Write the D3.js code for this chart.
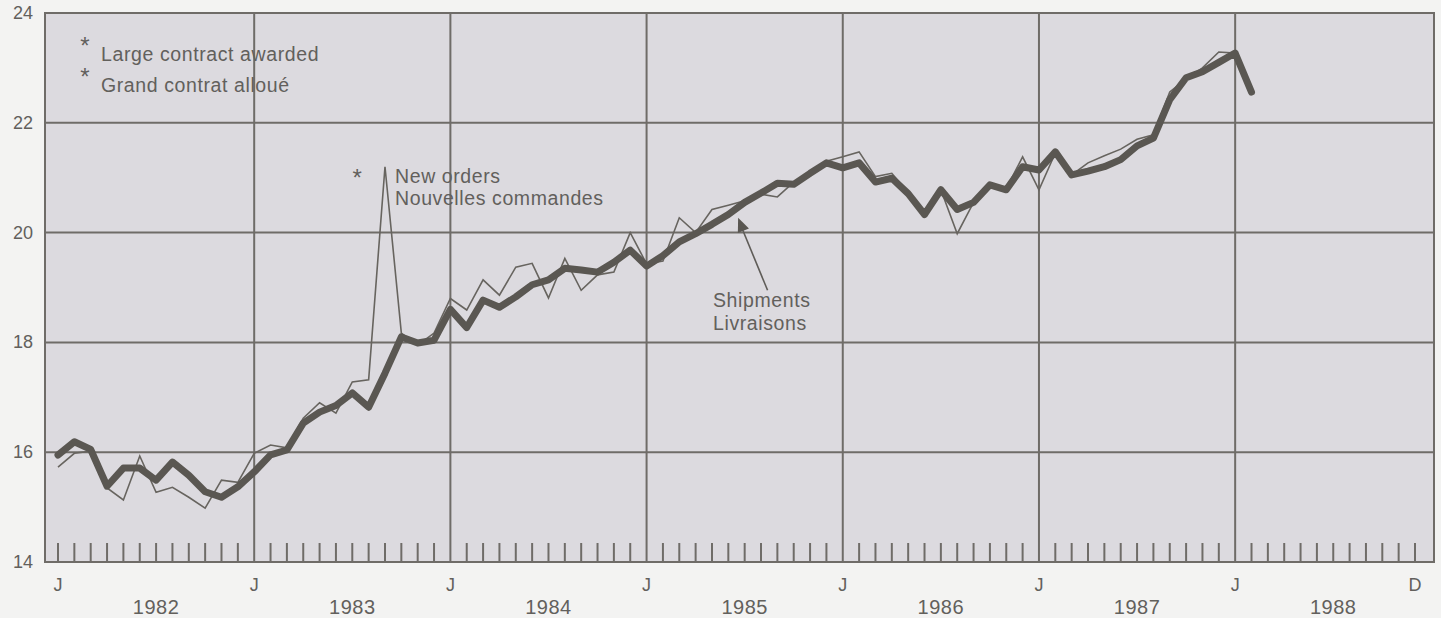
<!DOCTYPE html>
<html>
<head>
<meta charset="utf-8">
<script src="https://cdn.jsdelivr.net/npm/d3@7"></script>
<style>
  html, body { margin: 0; padding: 0; background: #f3f3f2; }
  svg { display: block; }
  text { font-family: "Liberation Sans", Arial, Helvetica, sans-serif; fill: #62605c; }
</style>
</head>
<body>
<svg id="chart" width="1441" height="618"></svg>
<script>
// Monthly series, starting January 1982 (billions of dollars)
const shipments = [
  15.95, 16.19, 16.05, 15.38, 15.71, 15.71, 15.49, 15.82, 15.58, 15.28, 15.18, 15.37, // 1982
  15.64, 15.95, 16.04, 16.53, 16.73, 16.85, 17.08, 16.82, 17.44, 18.10, 17.99, 18.04, // 1983
  18.60, 18.27, 18.77, 18.64, 18.83, 19.05, 19.14, 19.35, 19.32, 19.28, 19.46, 19.68, // 1984
  19.39, 19.58, 19.83, 19.98, 20.15, 20.33, 20.55, 20.72, 20.90, 20.88, 21.08, 21.27, // 1985
  21.18, 21.27, 20.92, 20.99, 20.71, 20.33, 20.78, 20.42, 20.55, 20.87, 20.78, 21.20, // 1986
  21.14, 21.47, 21.05, 21.12, 21.20, 21.33, 21.58, 21.72, 22.42, 22.82, 22.93, 23.10, // 1987
  23.27, 22.56                                                                         // 1988
];
const newOrders = [
  15.73, 15.98, 16.02, 15.35, 15.13, 15.93, 15.27, 15.36, 15.18, 14.98, 15.49, 15.45, // 1982
  15.98, 16.13, 16.08, 16.62, 16.90, 16.71, 17.28, 17.32, 21.20, 18.17, 17.95, 18.17, // 1983
  18.80, 18.59, 19.14, 18.86, 19.37, 19.44, 18.81, 19.53, 18.95, 19.23, 19.28, 20.00, // 1984
  19.43, 19.48, 20.27, 20.00, 20.42, 20.50, 20.58, 20.70, 20.65, 20.92, 21.05, 21.30, // 1985
  21.38, 21.47, 21.02, 21.08, 20.73, 20.35, 20.78, 19.98, 20.55, 20.87, 20.80, 21.38, // 1986
  20.78, 21.45, 21.05, 21.27, 21.40, 21.52, 21.70, 21.78, 22.56, 22.80, 23.00, 23.29, // 1987
  23.27                                                                                // 1988
];
const years = ["1982", "1983", "1984", "1985", "1986", "1987", "1988"];
const yTicks = [14, 16, 18, 20, 22, 24];
const monthCount = 84;          // Jan 1982 .. Dec 1988
const monthLabels = ["J", "D"]; // January / December markers
const legendLines = ["Large contract awarded", "Grand contrat alloué"];
const ordersLabel = ["New orders", "Nouvelles commandes"];
const shipLabel = ["Shipments", "Livraisons"];

const svg = d3.select("#chart");
const frame = { left: 45, right: 1434, top: 13, bottom: 562 };

const x = d3.scaleLinear().domain([0, monthCount - 1]).range([58, 1415]);
const y = d3.scaleLinear().domain([14, 24]).range([frame.bottom, frame.top]);

const gridColor = "#6f6c68";
const labelSize = 19.5, labelSpacing = 0.6;

// plot background
svg.append("rect")
  .attr("x", frame.left).attr("y", frame.top)
  .attr("width", frame.right - frame.left).attr("height", frame.bottom - frame.top)
  .attr("fill", "#dcdadf");

// horizontal grid lines
svg.append("g").selectAll("line").data(yTicks).join("line")
  .attr("x1", frame.left).attr("x2", frame.right)
  .attr("y1", d => y(d)).attr("y2", d => y(d))
  .attr("stroke", gridColor).attr("stroke-width", 2);

// vertical lines at each January after the first
const januaries = d3.range(12, monthCount, 12);
svg.append("g").selectAll("line").data(januaries).join("line")
  .attr("x1", d => x(d)).attr("x2", d => x(d))
  .attr("y1", frame.top).attr("y2", frame.bottom)
  .attr("stroke", gridColor).attr("stroke-width", 2);

// frame sides
svg.append("rect")
  .attr("x", frame.left).attr("y", frame.top)
  .attr("width", frame.right - frame.left).attr("height", frame.bottom - frame.top)
  .attr("fill", "none").attr("stroke", gridColor).attr("stroke-width", 2);

// monthly tick marks along the bottom
const months = d3.range(0, monthCount).filter(m => m === 0 || m % 12 !== 0);
svg.append("g").selectAll("line").data(months).join("line")
  .attr("x1", d => x(d)).attr("x2", d => x(d))
  .attr("y1", frame.bottom).attr("y2", frame.bottom - 19)
  .attr("stroke", gridColor).attr("stroke-width", 2);

// y-axis labels
svg.append("g").selectAll("text").data(yTicks).join("text")
  .attr("x", 33).attr("y", d => y(d) + 6)
  .attr("text-anchor", "end").attr("font-size", 18)
  .text(d => d);

// month letters
const monthMarks = [0].concat(januaries).map(m => ({ m, t: monthLabels[0] }))
  .concat([{ m: monthCount - 1, t: monthLabels[1] }]);
svg.append("g").selectAll("text").data(monthMarks).join("text")
  .attr("x", d => x(d.m)).attr("y", 591)
  .attr("text-anchor", "middle").attr("font-size", 18)
  .text(d => d.t);

// year labels
svg.append("g").selectAll("text").data(years).join("text")
  .attr("x", (d, i) => x(i * 12 + 6)).attr("y", 614)
  .attr("text-anchor", "middle").attr("font-size", 20)
  .attr("letter-spacing", 0.5)
  .text(d => d);

// series
const line = d3.line().x((d, i) => x(i)).y(d => y(d)).curve(d3.curveLinear);

svg.append("path").datum(newOrders)
  .attr("d", line).attr("fill", "none")
  .attr("stroke", "#67645f").attr("stroke-width", 1.6)
  .attr("stroke-linejoin", "miter");

svg.append("path").datum(shipments)
  .attr("d", line).attr("fill", "none")
  .attr("stroke", "#5a5752").attr("stroke-width", 7)
  .attr("stroke-linejoin", "round").attr("stroke-linecap", "round");

// legend
const legend = svg.append("g");
legendLines.forEach((t, i) => {
  legend.append("text").attr("x", 85).attr("y", 54 + i * 31)
    .attr("text-anchor", "middle").attr("font-size", 24).text("*");
  legend.append("text").attr("x", 101).attr("y", 61 + i * 31)
    .attr("font-size", labelSize).attr("letter-spacing", labelSpacing).text(t);
});

// new orders label, with the large-contract marker
svg.append("text").attr("x", x(18.3)).attr("y", 186)
  .attr("text-anchor", "middle").attr("font-size", 24).text("*");
ordersLabel.forEach((t, i) => {
  svg.append("text").attr("x", 395).attr("y", 183 + i * 22)
    .attr("font-size", labelSize).attr("letter-spacing", labelSpacing).text(t);
});

// shipments label with arrow
shipLabel.forEach((t, i) => {
  svg.append("text").attr("x", 713).attr("y", 307 + i * 23)
    .attr("font-size", labelSize).attr("letter-spacing", labelSpacing).text(t);
});
const tip = [x(41.6), y(20.27)];
const tail = [x(43.4), y(18.95)];
svg.append("line")
  .attr("x1", tail[0]).attr("y1", tail[1]).attr("x2", tip[0] + 2).attr("y2", tip[1] + 6)
  .attr("stroke", "#5f5c58").attr("stroke-width", 1.6);
const ang = Math.atan2(tail[1] - tip[1], tail[0] - tip[0]);
const headLen = 14, headW = 6;
const bx = tip[0] + headLen * Math.cos(ang), by = tip[1] + headLen * Math.sin(ang);
svg.append("path")
  .attr("d", `M${tip[0]},${tip[1]}L${bx + headW * Math.sin(ang)},${by - headW * Math.cos(ang)}L${bx - headW * Math.sin(ang)},${by + headW * Math.cos(ang)}Z`)
  .attr("fill", "#5a5752");
</script>
</body>
</html>
